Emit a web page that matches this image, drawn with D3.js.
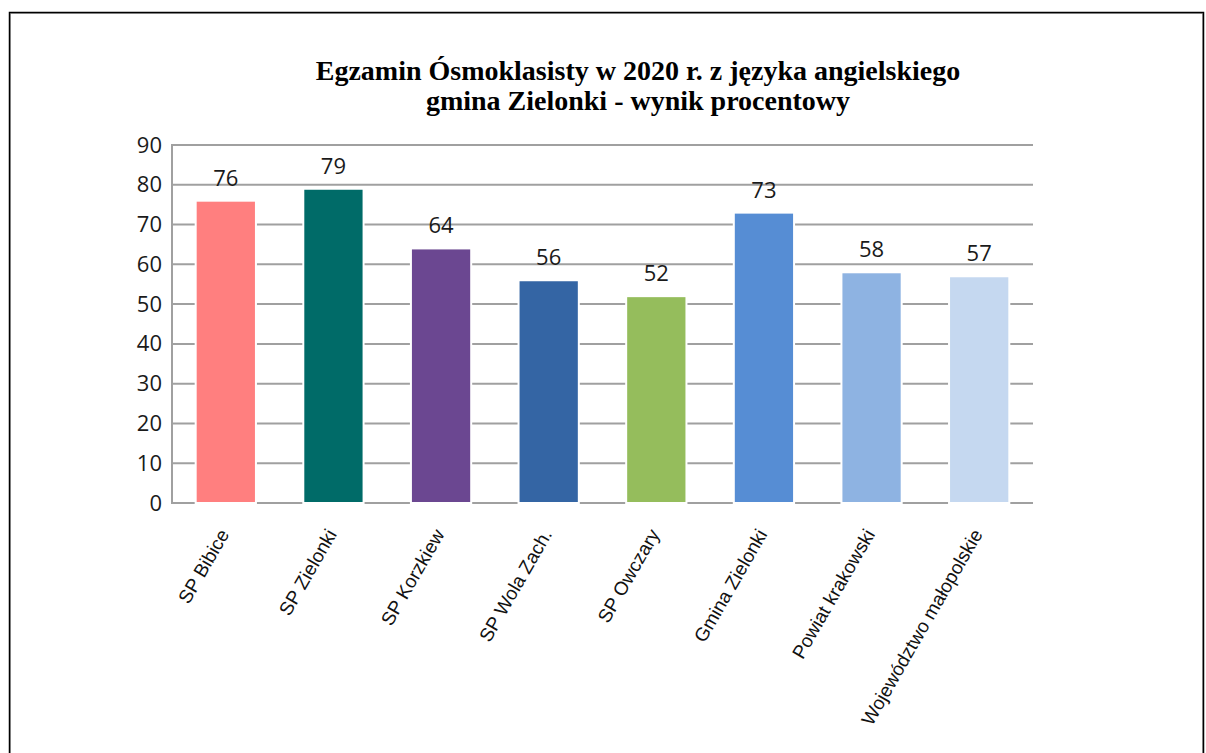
<!DOCTYPE html>
<html>
<head>
<meta charset="utf-8">
<style>
  body { margin:0; background:#fff; }
  svg { display:block; }
</style>
<script src="https://cdn.jsdelivr.net/npm/d3@7"></script>
</head>
<body>
<svg id="chart" width="1206" height="753"></svg>
<script>
// data
var categories = ["SP Bibice","SP Zielonki","SP Korzkiew","SP Wola Zach.","SP Owczary","Gmina Zielonki","Powiat krakowski","Województwo małopolskie"];
var values = [76, 79, 64, 56, 52, 73, 58, 57];
var colors = ["#ff7f7f","#006b68","#6b4791","#3465a4","#95bd5c","#568dd4","#8eb3e2","#c5d8f0"];
var yTicks = [0,10,20,30,40,50,60,70,80,90];
var titleLines = ["Egzamin Ósmoklasisty w 2020 r. z języka angielskiego","gmina Zielonki - wynik procentowy"];

var svg = d3.select("#chart");
var pl = 172, pr = 1033, pt = 145, pb = 503;

// frame
svg.append("path").attr("d","M10,753 V13 H1203 V753").attr("fill","none").attr("stroke","#aaa").attr("stroke-width",2);
svg.append("path").attr("d","M9.5,753 V12.5 H1203.5 V753").attr("fill","none").attr("stroke","#000").attr("stroke-width",1.5);

var x = d3.scaleBand().domain(categories).range([pl,pr]).paddingInner(0.44).paddingOuter(0.22);
var y = d3.scaleLinear().domain([0,90]).range([pb,pt]);

// title
svg.append("g").selectAll("text").data(titleLines).join("text")
  .attr("x",638).attr("y",function(d,i){return 80+i*30;})
  .attr("text-anchor","middle")
  .attr("font-family","'Liberation Serif', serif").attr("font-weight","bold").attr("font-size",28)
  .text(function(d){return d;});

// grid
svg.append("g").selectAll("line").data(yTicks).join("line")
  .attr("x1",pl).attr("x2",pr)
  .attr("y1",function(d){return y(d);}).attr("y2",function(d){return y(d);})
  .attr("stroke","#a0a0a0").attr("stroke-width",2);
svg.append("line").attr("x1",pl).attr("x2",pl).attr("y1",pt-1).attr("y2",pb+1)
  .attr("stroke","#a0a0a0").attr("stroke-width",2);

// y labels
var yAxis = svg.append("g").attr("transform","translate("+pl+",0)")
  .call(d3.axisLeft(y).tickValues(yTicks).tickSize(0).tickPadding(10));
yAxis.select(".domain").remove();
yAxis.selectAll("text").attr("font-family","'Open Sans', sans-serif").attr("font-size",22).attr("fill","#1a1a1a");

// bars
svg.append("g").selectAll("rect").data(values).join("rect")
  .attr("x",function(d,i){return x(categories[i]);})
  .attr("width",x.bandwidth())
  .attr("y",function(d){return y(d);})
  .attr("height",function(d){return y(0)-y(d);})
  .attr("fill",function(d,i){return colors[i];})
  .attr("stroke","#fff").attr("stroke-width",2);

// value labels
svg.append("g").selectAll("text").data(values).join("text")
  .attr("x",function(d,i){return x(categories[i])+x.bandwidth()/2;})
  .attr("y",function(d){return y(d)-15;})
  .attr("text-anchor","middle")
  .attr("font-family","'Open Sans', sans-serif").attr("font-size",22).attr("fill","#1a1a1a")
  .text(function(d){return d;});

// category labels
svg.append("g").selectAll("text").data(categories).join("text")
  .attr("transform",function(d){return "translate("+(x(d)+x.bandwidth()/2+4)+","+(pb+31)+") rotate(-60)";})
  .attr("text-anchor","end")
  .attr("font-family","'Liberation Sans', Arial, sans-serif").attr("font-size",19).attr("fill","#111")
  .text(function(d){return d;});
</script>
</body>
</html>
